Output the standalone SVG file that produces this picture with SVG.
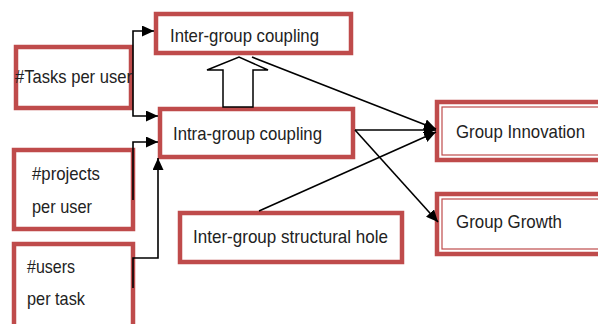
<svg xmlns="http://www.w3.org/2000/svg" width="598" height="324" viewBox="0 0 598 324">
<defs>
<marker id="ah" markerUnits="userSpaceOnUse" markerWidth="13" markerHeight="11" refX="12" refY="5.5" orient="auto">
<path d="M0,0 L12,5.5 L0,11 Z" fill="#000"/>
</marker>
<style>
.box{fill:#fff;stroke:#bf4b4b;stroke-width:4.5}
.inner{fill:none;stroke:#bf4b4b;stroke-width:1.2}
.t{font-family:"Liberation Sans",Arial,sans-serif;font-size:19px;fill:#222}
.c{fill:none;stroke:#000;stroke-width:1.6}
</style>
</defs>
<rect width="598" height="324" fill="#fff"/>
<g id="tasks"><rect class="box" x="16" y="47" width="115" height="61"/><text class="t" x="15" y="83" textLength="117" lengthAdjust="spacingAndGlyphs">#Tasks per user</text></g>
<g id="inter"><rect class="box" x="156" y="14" width="195" height="39"/><text class="t" x="170" y="42" textLength="149" lengthAdjust="spacingAndGlyphs">Inter-group coupling</text></g>
<g id="intra"><rect class="box" x="160" y="109" width="193" height="48"/><text class="t" x="173" y="140" textLength="149" lengthAdjust="spacingAndGlyphs">Intra-group coupling</text></g>
<g id="projects"><rect class="box" x="14" y="150" width="119" height="79"/><text class="t" x="32" y="180" textLength="68" lengthAdjust="spacingAndGlyphs">#projects</text><text class="t" x="32" y="213" textLength="60" lengthAdjust="spacingAndGlyphs">per user</text></g>
<g id="users"><rect class="box" x="14" y="244" width="119" height="90"/><text class="t" x="27" y="273" textLength="48" lengthAdjust="spacingAndGlyphs">#users</text><text class="t" x="27" y="305" textLength="58" lengthAdjust="spacingAndGlyphs">per task</text></g>
<g id="hole"><rect class="box" x="180" y="213" width="222" height="49"/><text class="t" x="193" y="243" textLength="195" lengthAdjust="spacingAndGlyphs">Inter-group structural hole</text></g>
<g id="innovation"><rect class="box" x="437" y="102" width="175" height="58"/><rect class="inner" x="442" y="107" width="170" height="48"/><text class="t" x="456" y="138" textLength="129" lengthAdjust="spacingAndGlyphs">Group Innovation</text></g>
<g id="growth"><rect class="box" x="437" y="194" width="175" height="60"/><rect class="inner" x="442" y="199" width="170" height="50"/><text class="t" x="456" y="228" textLength="106" lengthAdjust="spacingAndGlyphs">Group Growth</text></g>
<g id="connectors">
<path class="c" d="M133,74 V31 H154" marker-end="url(#ah)"/>
<path class="c" d="M133,74 V116 H158" marker-end="url(#ah)"/>
<path class="c" d="M133,200 V142 H158" marker-end="url(#ah)"/>
<path class="c" d="M133,288 V258 H158 V158" marker-end="url(#ah)"/>
<polygon points="223,107 223,70 207,70 239,57 268,70 253,70 253,107" fill="#fff" stroke="#000" stroke-width="1.5" stroke-linejoin="miter"/>
<path class="c" d="M252,57 L436,129" marker-end="url(#ah)"/>
<path class="c" d="M355,130 L436,130" marker-end="url(#ah)"/>
<path class="c" d="M355,130 L438,222" marker-end="url(#ah)"/>
<path class="c" d="M259,211 L436,132" marker-end="url(#ah)"/>
</g>
</svg>
